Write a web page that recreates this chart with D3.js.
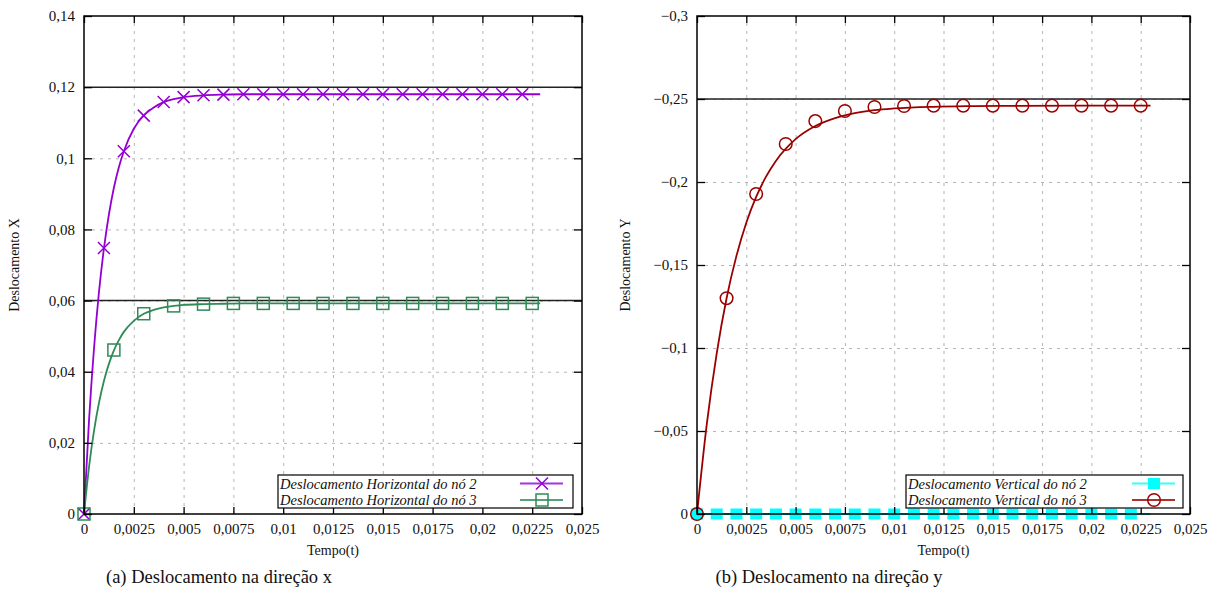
<!DOCTYPE html>
<html>
<head>
<meta charset="utf-8">
<script src="https://cdn.jsdelivr.net/npm/d3@7"></script>
<style>
  body { margin: 0; background: #fff; }
  text { font-family: "Liberation Serif", "Times New Roman", serif; fill: #111; }
  .grid line { stroke: #b4b4b4; stroke-width: 1; stroke-dasharray: 3,5; }
  .grid path { display: none; }
  .axis path { display: none; }
  .axis line { stroke: #000; stroke-width: 1.3; }
  .legend text { font-style: italic; font-size: 14.5px; }
</style>
</head>
<body>
<svg id="chart" width="1219" height="610"></svg>
<script>
// eixos
const ticksTempo = [0, 0.0025, 0.005, 0.0075, 0.01, 0.0125, 0.015, 0.0175, 0.02, 0.0225, 0.025];
const ticksDeslX = [0, 0.02, 0.04, 0.06, 0.08, 0.1, 0.12, 0.14];
const ticksDeslY = [0, -0.05, -0.1, -0.15, -0.2, -0.25, -0.3];

// linhas de referência
const refDeslX = [0.12, 0.06];
const refDeslY = [-0.25];

// curvas contínuas
const tCurvaX = [0, 0.00025, 0.0005, 0.00075, 0.001, 0.00125, 0.0015, 0.00175, 0.002, 0.0025, 0.003, 0.0035, 0.004, 0.0045, 0.005, 0.006, 0.007, 0.008, 0.01, 0.0229];
const curvaH2 = [0, 0.0261, 0.0464, 0.0623, 0.0746, 0.0842, 0.0917, 0.0975, 0.1020, 0.1083, 0.1121, 0.1143, 0.1158, 0.1166, 0.1172, 0.1177, 0.1179, 0.118, 0.118, 0.118];
const curvaH3 = [0, 0.0131, 0.0233, 0.0312, 0.0374, 0.0422, 0.0460, 0.0489, 0.0512, 0.0543, 0.0563, 0.0574, 0.0581, 0.0585, 0.0588, 0.0590, 0.0591, 0.0592, 0.0592, 0.0592];

const tCurvaY = [0, 0.0005, 0.001, 0.0015, 0.002, 0.0025, 0.003, 0.0035, 0.004, 0.005, 0.006, 0.007, 0.008, 0.009, 0.01, 0.012, 0.014, 0.016, 0.023];
const curvaV3 = [0, -0.0544, -0.0968, -0.1300, -0.1555, -0.1755, -0.1910, -0.2032, -0.2127, -0.2258, -0.2337, -0.2385, -0.2415, -0.2433, -0.2443, -0.2453, -0.2457, -0.2459, -0.246];
const tCurvaV2 = [0, 0.023];
const curvaV2 = [0, 0];

// pontos marcados
const tMarcas1ms = [0, 0.001, 0.002, 0.003, 0.004, 0.005, 0.006, 0.007, 0.008, 0.009, 0.01, 0.011, 0.012, 0.013, 0.014, 0.015, 0.016, 0.017, 0.018, 0.019, 0.02, 0.021, 0.022];
const tMarcas15ms = [0, 0.0015, 0.003, 0.0045, 0.006, 0.0075, 0.009, 0.0105, 0.012, 0.0135, 0.015, 0.0165, 0.018, 0.0195, 0.021, 0.0225];
const marcasH2 = [0, 0.0748, 0.1020, 0.1120, 0.1158, 0.1172, 0.1177, 0.1179, 0.118, 0.118, 0.118, 0.118, 0.118, 0.118, 0.118, 0.118, 0.118, 0.118, 0.118, 0.118, 0.118, 0.118, 0.118];
const marcasH3 = [0, 0.0461, 0.0563, 0.0585, 0.0590, 0.0592, 0.0592, 0.0592, 0.0592, 0.0592, 0.0592, 0.0592, 0.0592, 0.0592, 0.0592, 0.0592];
const marcasV2 = [0, 0, 0, 0, 0, 0, 0, 0, 0, 0, 0, 0, 0, 0, 0, 0, 0, 0, 0, 0, 0, 0, 0];
const marcasV3 = [0, -0.1300, -0.1928, -0.2229, -0.2367, -0.2428, -0.2452, -0.2458, -0.246, -0.246, -0.246, -0.246, -0.246, -0.246, -0.246, -0.246];

const svg = d3.select('#chart');

const fmt = d => String(+d.toFixed(4)).replace('.', ',').replace('-', '\u2212');

// desenha um marcador no ponto (x, y)
function marker(g, type, x, y, color) {
  if (type === 'cross') {
    let s = 6;
    g.append('path')
      .attr('d', `M${x - s},${y - s}L${x + s},${y + s}M${x - s},${y + s}L${x + s},${y - s}`)
      .attr('stroke', color).attr('stroke-width', 1.5).attr('fill', 'none');
  } else if (type === 'square') {
    g.append('rect')
      .attr('x', x - 6).attr('y', y - 6).attr('width', 12).attr('height', 12)
      .attr('stroke', color).attr('stroke-width', 1.5).attr('fill', 'none');
  } else if (type === 'fsquare') {
    g.append('rect')
      .attr('x', x - 6).attr('y', y - 5.5).attr('width', 12).attr('height', 11)
      .attr('fill', color);
  } else if (type === 'circle') {
    g.append('circle')
      .attr('cx', x).attr('cy', y).attr('r', 6.3)
      .attr('stroke', color).attr('stroke-width', 1.5).attr('fill', 'none');
  }
}

function drawPanel(p) {
  let { left, right, top, bottom } = p.box;
  let width = right - left;
  let height = bottom - top;

  let scaleX = d3.scaleLinear().domain([0, 0.025]).range([left, right]);
  let scaleY = d3.scaleLinear().domain(p.domainY).range([bottom, top]);

  let g = svg.append('g');

  // grade tracejada
  g.append('g').attr('class', 'grid')
    .attr('transform', `translate(0, ${bottom})`)
    .call(d3.axisBottom(scaleX).tickValues(ticksTempo.slice(1, -1)).tickSize(-height).tickFormat(''));
  g.append('g').attr('class', 'grid')
    .attr('transform', `translate(${left}, 0)`)
    .call(d3.axisLeft(scaleY).tickValues(p.ticksY.slice(1, -1)).tickSize(-width).tickFormat(''));

  // linhas de referência
  p.refs.forEach(v => {
    g.append('line')
      .attr('x1', left).attr('x2', right)
      .attr('y1', scaleY(v)).attr('y2', scaleY(v))
      .attr('stroke', '#222').attr('stroke-width', 1.5);
  });

  // curvas
  let line = d3.line()
    .x(d => scaleX(d[0]))
    .y(d => scaleY(d[1]))
    .curve(d3.curveMonotoneX);

  p.series.forEach(s => {
    g.append('path')
      .attr('d', line(d3.zip(s.tCurva, s.curva)))
      .attr('fill', 'none')
      .attr('stroke', s.color)
      .attr('stroke-width', 1.8);
  });

  // marcadores
  p.series.forEach(s => {
    s.tMarcas.forEach((t, i) => marker(g, s.marker, scaleX(t), scaleY(s.marcas[i]), s.color));
  });

  // moldura
  g.append('rect')
    .attr('x', left).attr('y', top).attr('width', width).attr('height', height)
    .attr('fill', 'none').attr('stroke', '#000').attr('stroke-width', 1.5);

  // eixos com marcas para dentro
  let axB = g.append('g').attr('class', 'axis')
    .attr('transform', `translate(0, ${bottom})`)
    .call(d3.axisBottom(scaleX).tickValues(ticksTempo).tickSize(-7).tickSizeOuter(0).tickPadding(9).tickFormat(fmt));
  g.append('g').attr('class', 'axis')
    .attr('transform', `translate(0, ${top})`)
    .call(d3.axisTop(scaleX).tickValues(ticksTempo).tickSize(-7).tickSizeOuter(0).tickFormat(''));
  let axL = g.append('g').attr('class', 'axis')
    .attr('transform', `translate(${left}, 0)`)
    .call(d3.axisLeft(scaleY).tickValues(p.ticksY).tickSize(-8).tickSizeOuter(0).tickPadding(9).tickFormat(fmt));
  g.append('g').attr('class', 'axis')
    .attr('transform', `translate(${right}, 0)`)
    .call(d3.axisRight(scaleY).tickValues(p.ticksY).tickSize(-8).tickSizeOuter(0).tickFormat(''));

  [axB, axL].forEach(a => a.selectAll('text')
    .attr('font-family', '"Liberation Serif", "Times New Roman", serif')
    .attr('font-size', 15)
    .attr('fill', '#111'));
  g.selectAll('.axis').attr('font-family', null).attr('font-size', null);

  // títulos dos eixos
  g.append('text')
    .attr('x', (left + right) / 2).attr('y', 555)
    .attr('text-anchor', 'middle').attr('font-size', 14)
    .text('Tempo(t)');
  g.append('text')
    .attr('transform', `translate(${p.labelX}, ${(top + bottom) / 2}) rotate(-90)`)
    .attr('text-anchor', 'middle').attr('font-size', 14)
    .text(p.labelY);

  // legenda
  let lg = g.append('g').attr('class', 'legend');
  let lb = p.legend;
  lg.append('rect')
    .attr('x', lb.x).attr('y', lb.y).attr('width', lb.w).attr('height', 33)
    .attr('fill', '#fff').attr('stroke', '#000').attr('stroke-width', 1.2);
  p.series.forEach((s, i) => {
    let cy = lb.y + 8.5 + i * 16.5;
    lg.append('text')
      .attr('x', lb.x + 2).attr('y', cy + 5)
      .text(s.name);
    lg.append('line')
      .attr('x1', lb.lineX).attr('x2', lb.lineX + 43)
      .attr('y1', cy).attr('y2', cy)
      .attr('stroke', s.color).attr('stroke-width', 1.8).attr('opacity', 0.8);
    marker(lg, s.marker, lb.lineX + 22, cy, s.color);
  });

  // legenda da subfigura
  svg.append('text')
    .attr('x', p.captionX).attr('y', 583)
    .attr('text-anchor', 'middle').attr('font-size', 18.5)
    .text(p.caption);
}

drawPanel({
  box: { left: 84, right: 582, top: 16, bottom: 514 },
  domainY: [0, 0.14],
  ticksY: ticksDeslX,
  refs: refDeslX,
  labelX: 19,
  labelY: 'Deslocamento X',
  caption: '(a) Deslocamento na direção x',
  captionX: 219,
  legend: { x: 278, y: 475, w: 295, lineX: 520 },
  series: [
    { name: 'Deslocamento Horizontal do nó 2', color: '#9400d3', marker: 'cross',
      tCurva: tCurvaX, curva: curvaH2, tMarcas: tMarcas1ms, marcas: marcasH2 },
    { name: 'Deslocamento Horizontal do nó 3', color: '#2e8b57', marker: 'square',
      tCurva: tCurvaX, curva: curvaH3, tMarcas: tMarcas15ms, marcas: marcasH3 }
  ]
});

drawPanel({
  box: { left: 697, right: 1190, top: 16, bottom: 514 },
  domainY: [0, -0.3],
  ticksY: ticksDeslY,
  refs: refDeslY,
  labelX: 630,
  labelY: 'Deslocamento Y',
  caption: '(b) Deslocamento na direção y',
  captionX: 829,
  legend: { x: 906, y: 475, w: 277, lineX: 1132 },
  series: [
    { name: 'Deslocamento Vertical do nó 2', color: '#00ffff', marker: 'fsquare',
      tCurva: tCurvaV2, curva: curvaV2, tMarcas: tMarcas1ms, marcas: marcasV2 },
    { name: 'Deslocamento Vertical do nó 3', color: '#9b0000', marker: 'circle',
      tCurva: tCurvaY, curva: curvaV3, tMarcas: tMarcas15ms, marcas: marcasV3 }
  ]
});
</script>
</body>
</html>
